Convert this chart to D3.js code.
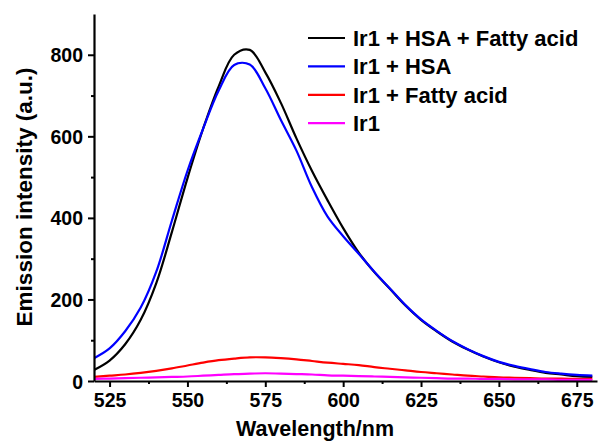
<!DOCTYPE html>
<html>
<head>
<meta charset="utf-8">
<title>Emission spectra</title>
<script src="https://d3js.org/d3.v7.min.js"></script>
<style>
  body{margin:0;background:#fff;}
  svg{display:block;font-family:"Liberation Sans", Arial, sans-serif;font-weight:bold;}
</style>
</head>
<body>
<div id="graph-container"></div>
<script>

// wavelengths (nm) and the four emission series
var wavelength = [520,525,530,535,540,545,550,555,560,565,570,575,580,585,590,595,600,
  605,610,615,620,625,630,635,640,645,650,655,660,665,670,675,680];
var irHsaFatty = [27,50,90,150,240,365,497,618,722,800,812,757,682,595,515,443,375,
  315,267,226,185,150,122,97,77,60,46,35,27,20,16,12,10];
var irHsa = [56,80,122,180,268,393,515,618,712,775,776,718,640,565,475,403,355,
  312,268,227,186,151,123,98,78,61,47,37,29,22,18,15,13];
var irFatty = [10,13,16,20,25,31,38,45,51,55,58,58,56,53,49,45,42,
  39,34,30,26,22,19,16,13,11,9,8,7,6,6,5,5];
var irOnly = [5,6,7,8,9,10,11,13,15,17,18,19,18,17,16,14,13,
  12,11,10,9,8,7,6,6,5,5,4,4,4,3,3,3];

var seriesNames = ['Ir1 + HSA + Fatty acid','Ir1 + HSA','Ir1 + Fatty acid','Ir1'];
var seriesColors = ['#000000','#0000ff','#ff0000','#ff00ff'];
var seriesValues = [irHsaFatty, irHsa, irFatty, irOnly];

var xTicks = [525,550,575,600,625,650,675];
var xMinor = [537.5,562.5,587.5,612.5,637.5,662.5];
var yTicks = [0,200,400,600,800];
var yMinor = [100,300,500,700];

var width = 598, height = 442;
var svg = d3.select('#graph-container').append('svg')
  .attr('width', width)
  .attr('height', height);

var xScale = d3.scaleLinear().domain([520, 681.5]).range([94, 597]);
var yScale = d3.scaleLinear().domain([0, 900]).range([381, 14]);

svg.append('clipPath').attr('id','plot-clip')
  .append('rect')
  .attr('x', 94).attr('y', 0)
  .attr('width', 504).attr('height', 381);

var line = d3.line()
  .x(function(d){return xScale(d[0])})
  .y(function(d){return yScale(d[1])})
  .curve(d3.curveCatmullRom.alpha(0.5));

var plot = svg.append('g').attr('clip-path','url(#plot-clip)');
seriesValues.forEach(function(vals, i){
  plot.append('path')
    .datum(wavelength.map(function(w, k){return [w, vals[k]]}))
    .attr('d', line)
    .attr('fill','none')
    .attr('stroke', seriesColors[i])
    .attr('stroke-width', 2.2)
    .attr('stroke-linejoin','round');
});

// axes: major ticks outward, minor ticks without labels
var xAxis = svg.append('g').attr('transform','translate(0,381)')
  .call(d3.axisBottom(xScale).tickValues(xTicks).tickSize(6).tickPadding(6).tickSizeOuter(0));
svg.append('g').attr('transform','translate(0,381)')
  .call(d3.axisBottom(xScale).tickValues(xMinor).tickSize(3).tickFormat('').tickSizeOuter(0))
  .select('.domain').remove();

var yAxis = svg.append('g').attr('transform','translate(94,0)')
  .call(d3.axisLeft(yScale).tickValues(yTicks).tickSize(6).tickPadding(5).tickSizeOuter(0));
svg.append('g').attr('transform','translate(94,0)')
  .call(d3.axisLeft(yScale).tickValues(yMinor).tickSize(3).tickFormat('').tickSizeOuter(0))
  .select('.domain').remove();

svg.selectAll('.domain').attr('stroke','#000').attr('stroke-width',2.2);
svg.selectAll('.tick line').attr('stroke','#000').attr('stroke-width',2);
svg.selectAll('.tick text')
  .attr('fill','#000')
  .style('font-size','19.5px')
  .style('font-family','"Liberation Sans", Arial, sans-serif')
  .style('font-weight','bold');
xAxis.selectAll('.tick text').attr('dy','0.72em');
yAxis.selectAll('.tick text').attr('dy','0.36em');

svg.append('text')
  .attr('x', 315).attr('y', 436)
  .attr('text-anchor','middle')
  .style('font-size','21.5px')
  .text('Wavelength/nm');

svg.append('text')
  .attr('transform','translate(32,197) rotate(-90)')
  .attr('text-anchor','middle')
  .style('font-size','22.5px')
  .text('Emission intensity (a.u.)');

// legend
var legend = svg.append('g');
seriesNames.forEach(function(name, i){
  var y = 38 + i*28.4;
  legend.append('line')
    .attr('x1', 308).attr('x2', 345)
    .attr('y1', y).attr('y2', y)
    .attr('stroke', seriesColors[i])
    .attr('stroke-width', 2.2);
  legend.append('text')
    .attr('x', 353).attr('y', y)
    .attr('dy','0.36em')
    .style('font-size','22px')
    .text(name);
});

</script>
</body>
</html>
